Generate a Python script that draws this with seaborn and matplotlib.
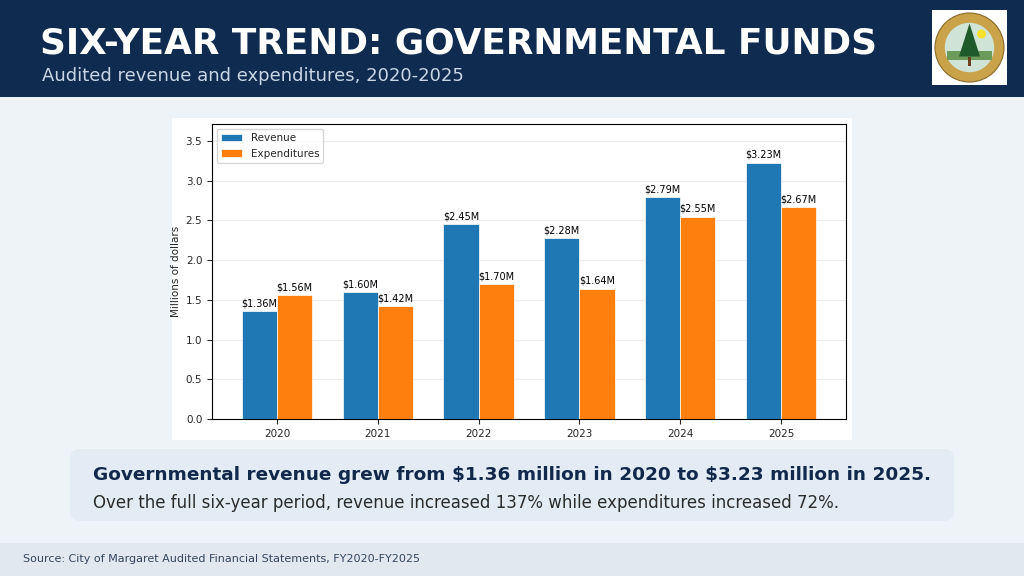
import numpy as np
import pandas as pd
import matplotlib
matplotlib.use("Agg")
import matplotlib.pyplot as plt
from matplotlib.patches import Rectangle, FancyBboxPatch, Circle, Polygon
import seaborn as sns

# data (millions of dollars)
years = ["2020", "2021", "2022", "2023", "2024", "2025"]
revenue = [1.36, 1.60, 2.45, 2.28, 2.79, 3.23]
expenditures = [1.56, 1.42, 1.70, 1.64, 2.55, 2.67]

df = pd.DataFrame({
    "Year": years * 2,
    "Value": revenue + expenditures,
    "Series": ["Revenue"] * len(years) + ["Expenditures"] * len(years),
})

sns.set_style("white")
plt.rcParams['font.family'] = ['DejaVu Sans']

W, H = 1024, 576
fig = plt.figure(figsize=(10.24, 5.76), dpi=100)
fig.patch.set_facecolor("#eef3f8")

def fx(px):
    return px / W

def fy(py):
    return 1 - py / H

# background shapes go in one full-figure axes underneath everything
bg = fig.add_axes([0, 0, 1, 1], zorder=-10)
bg.set_xlim(0, W)
bg.set_ylim(H, 0)
bg.axis("off")
bg.add_patch(Rectangle((0, 0), W, 97, facecolor="#0f2b50", edgecolor="none"))
bg.add_patch(Rectangle((172, 118), 680, 322, facecolor="white", edgecolor="none"))
bg.add_patch(FancyBboxPatch((70, 449), 884, 72, boxstyle="round,pad=0,rounding_size=10",
                            facecolor="#e3ecf5", edgecolor="none"))
bg.add_patch(Rectangle((0, 543), W, 33, facecolor="#e1e8f0", edgecolor="none"))

# header text
fig.text(fx(40), fy(44), "SIX-YEAR TREND: GOVERNMENTAL FUNDS", color="white",
         fontsize=25.8, fontweight="bold", va="center", ha="left")
fig.text(fx(42), fy(76), "Audited revenue and expenditures, 2020-2025", color="#c9d6e6",
         fontsize=13, va="center", ha="left")

# logo (simple seal)
lax = fig.add_axes([fx(932), fy(85), fx(75), 75 / H], zorder=5)
lax.set_xlim(0, 1)
lax.set_ylim(0, 1)
lax.axis("off")
lax.add_patch(Rectangle((0, 0), 1, 1, facecolor="white", edgecolor="none"))
lax.add_patch(Circle((0.5, 0.5), 0.46, facecolor="#c9a24a", edgecolor="#8a6a2a", lw=0.8))
lax.add_patch(Circle((0.5, 0.5), 0.33, facecolor="#cfe3d6", edgecolor="none"))
lax.add_patch(Rectangle((0.2, 0.33), 0.6, 0.12, facecolor="#6b9b5a", edgecolor="none"))
lax.add_patch(Polygon([[0.5, 0.82], [0.36, 0.38], [0.64, 0.38]], facecolor="#1f5a2a", edgecolor="none"))
lax.add_patch(Circle((0.66, 0.68), 0.06, facecolor="#f5e12a", edgecolor="none"))
lax.add_patch(Rectangle((0.48, 0.25), 0.04, 0.13, facecolor="#6a3e1e", edgecolor="none"))

# main chart
ax = fig.add_axes([fx(212), fy(419), fx(634), 295 / H])
sns.barplot(data=df, x="Year", y="Value", hue="Series", width=0.7,
            palette=["#1f77b4", "#ff7f0e"], saturation=1, ax=ax, zorder=3,
            edgecolor="white", linewidth=0.5)
for cont, vals in zip(ax.containers, [revenue, expenditures]):
    ax.bar_label(cont, labels=[f"${v:.2f}M" for v in vals], padding=2, fontsize=7,
                 color="black")
ax.set_xlim(-0.645, 5.645)
ax.set_ylim(0, 3.715)
ax.set_yticks(np.arange(0, 3.6, 0.5))
ax.set_xlabel("")
ax.set_ylabel("Millions of dollars", fontsize=7.5, labelpad=3)
ax.tick_params(axis="both", labelsize=7.5, length=3.5, width=0.8, left=True, bottom=True)
ax.grid(axis="y", color="#ececec", lw=0.8, zorder=0)
ax.set_axisbelow(True)
for s in ax.spines.values():
    s.set_color("black")
    s.set_linewidth(0.8)
leg = ax.legend(loc="upper left", fontsize=7.5, frameon=True, title=None)
leg.get_frame().set_edgecolor("#cccccc")

# callout text
fig.text(fx(93), fy(475), r"Governmental revenue grew from \$1.36 million in 2020 to \$3.23 million in 2025.",
         color="#13294b", fontsize=13.3, fontweight="bold", va="center", ha="left")
fig.text(fx(93), fy(503), "Over the full six-year period, revenue increased 137% while expenditures increased 72%.",
         color="#2b2b2b", fontsize=12, va="center", ha="left")

# footer
fig.text(fx(23), fy(559), "Source: City of Margaret Audited Financial Statements, FY2020-FY2025",
         color="#34475f", fontsize=8, va="center", ha="left")

fig.savefig("out.png", dpi=100, facecolor=fig.get_facecolor())
